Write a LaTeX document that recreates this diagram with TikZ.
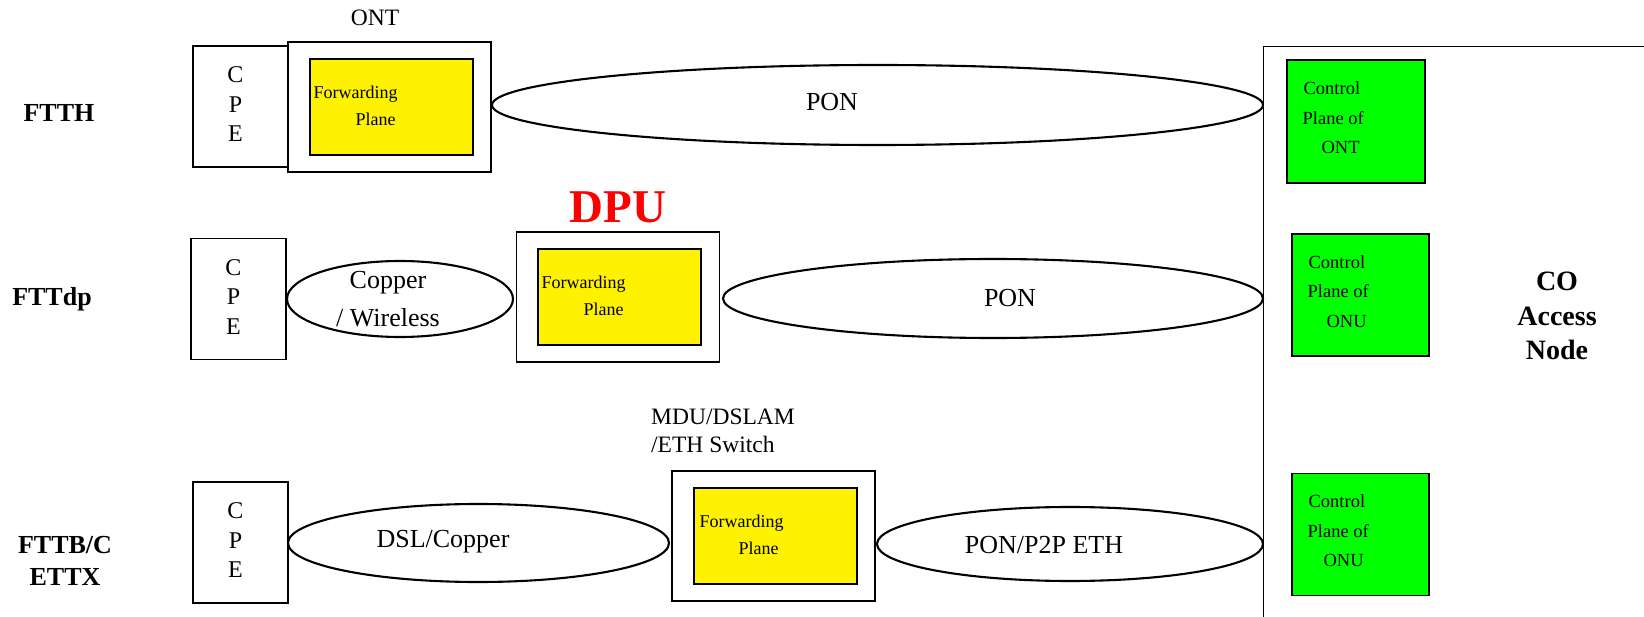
\documentclass[tikz,border=0pt]{standalone}
\usepackage{fontspec}
\setmainfont{Liberation Serif}
\usetikzlibrary{positioning,shapes.geometric}

\newcommand{\cpeletters}{\begin{tabular}{@{}c@{}}C\\P\\E\end{tabular}\hspace*{10pt}}

\tikzset{
  cpe/.style={draw, line width=1.2pt, minimum width=95pt, minimum height=121pt, inner sep=0pt, font=\fontsize{24}{29.5}\selectfont},
  unitbox/.style={draw, line width=1.2pt, minimum width=203pt, minimum height=130pt, inner sep=0pt},
  fwdplane/.style={draw, line width=1.2pt, fill=yellow, minimum width=163pt, minimum height=96pt, inner sep=0pt},
  fwdtext/.style={anchor=west, align=left, inner sep=0pt, font=\fontsize{18}{27}\selectfont},
  ctrlplane/.style={draw, line width=1.2pt, fill=green, minimum width=137pt, minimum height=122pt, inner sep=0pt},
  ctrltext/.style={anchor=west, align=left, inner sep=0pt, font=\fontsize{18.5}{29.5}\selectfont},
  link/.style={draw, ellipse, line width=2.1pt, inner sep=0pt},
  linktext/.style={align=center, inner sep=0pt, font=\fontsize{26}{38}\selectfont},
  rowlabel/.style={align=center, inner sep=0pt, font=\bfseries\fontsize{26}{32}\selectfont},
  boxtitle/.style={inner sep=0pt, font=\fontsize{23.5}{28}\selectfont}
}

\begin{document}
\begin{tikzpicture}[x=1pt, y=-1pt]
\useasboundingbox (0,0) rectangle (1644,617);

\node[draw, line width=1.2pt, minimum width=600pt, minimum height=700pt, anchor=north west] (co) at (1263,46) {};
\node[align=center, inner sep=0pt, font=\bfseries\fontsize{28}{34.5}\selectfont] (colabel) at (1557,316) {CO\\Access\\Node};

\node[rowlabel] (ftth) at (59,113) {FTTH};
\node[rowlabel] (fttdp) at (52,299) {FTTdp};
\node[rowlabel] (fttb) at (65,561) {FTTB/C\\ETTX};

\node[cpe] (cpe1) at (240.5,106.5) {\cpeletters};
\node[cpe] (cpe2) at (238.5,299) {\cpeletters};
\node[cpe] (cpe3) at (240.5,542.5) {\cpeletters};

\node[unitbox] (ont) at (389.5,107) {};
\node[boxtitle] (ontlabel) at (375,18) {ONT};
\node[fwdplane] (fp1) at (391.5,107) {};
\node[fwdtext] (fp1t) at ([xshift=4pt,yshift=1.5pt]fp1.west) {Forwarding\\\hspace*{42pt}Plane};

\node[unitbox] (dpu) at (618,297) {};
\node[inner sep=0pt, text=red, font=\bfseries\fontsize{47}{50}\selectfont] (dpulabel) at (618,207.5) {DPU};
\node[fwdplane] (fp2) at (619.5,297) {};
\node[fwdtext] (fp2t) at ([xshift=4pt,yshift=1.5pt]fp2.west) {Forwarding\\\hspace*{42pt}Plane};

\node[unitbox] (mdu) at (773.5,536) {};
\node[boxtitle, anchor=west, align=left] (mdulabel) at (651,431) {MDU/DSLAM\\/ETH Switch};
\node[fwdplane] (fp3) at (775.5,536) {};
\node[fwdtext] (fp3t) at ([xshift=6pt,yshift=1.5pt]fp3.west) {Forwarding\\\hspace*{39pt}Plane};

\node[link, minimum width=771pt, minimum height=80pt] (pon1) at (877.5,105) {};
\node[linktext] (pon1t) at (832,102) {PON};

\node[link, minimum width=226pt, minimum height=76pt] (copper) at (400,299) {};
\node[linktext] (coppert) at (388,299) {Copper\\/ Wireless};
\node[link, minimum width=540pt, minimum height=79pt] (pon2) at (993,298.5) {};
\node[linktext] (pon2t) at (1010,298) {PON};

\node[link, minimum width=381pt, minimum height=78pt] (dsl) at (478.5,543) {};
\node[linktext] (dslt) at (443,542) {DSL/Copper};
\node[link, minimum width=386pt, minimum height=74pt] (p2p) at (1070,544) {};
\node[linktext] (p2pt) at (1044,545) {PON/P2P ETH};

\node[ctrlplane, minimum width=138pt, minimum height=123pt] (cp1) at (1356,121.5) {};
\node[ctrltext] (cp1t) at ([xshift=16pt,yshift=3.5pt]cp1.west) {\hspace*{1pt}Control\\Plane of\\\hspace*{19pt}ONT};
\node[ctrlplane] (cp2) at (1360.5,295) {};
\node[ctrltext] (cp2t) at ([xshift=16pt,yshift=3.5pt]cp2.west) {\hspace*{1pt}Control\\Plane of\\\hspace*{19pt}ONU};
\node[ctrlplane] (cp3) at (1360.5,534.5) {};
\node[ctrltext] (cp3t) at ([xshift=16pt,yshift=3.5pt]cp3.west) {\hspace*{1pt}Control\\Plane of\\\hspace*{16pt}ONU};

\end{tikzpicture}
\end{document}
